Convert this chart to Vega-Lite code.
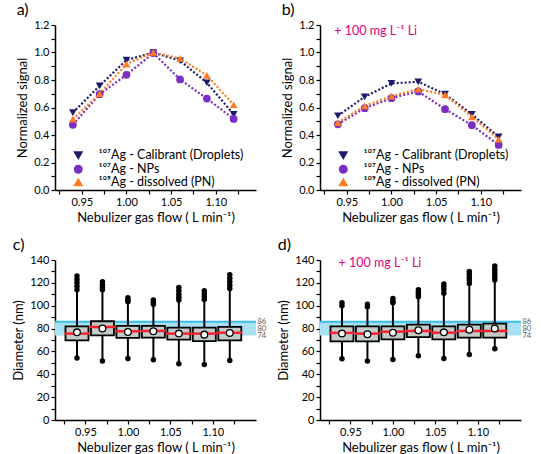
{
  "$schema": "https://vega.github.io/schema/vega-lite/v6.json",
  "padding": {"left": 12, "top": 2, "right": 4, "bottom": 0},
  "config": {
    "font": "Lato",
    "view": {"stroke": null},
    "axis": {"domainColor": "black", "tickColor": "black", "labelColor": "black", "titleColor": "black", "grid": false, "labelFontSize": 11, "titleFontSize": 13, "titleFontWeight": "normal", "domainWidth": 1.5, "tickWidth": 1.2, "tickSize": 4, "labelPadding": 2, "titlePadding": 4, "labelOverlap": false},
    "title": {"fontSize": 16, "fontWeight": "normal", "anchor": "start", "frame": "bounds", "offset": 1, "color": "black"}
  },
  "datasets": {
    "sigA": [
      {"flow": 0.94, "series": "¹⁰⁷Ag - Calibrant (Droplets)", "signal": 0.563},
      {"flow": 0.97, "series": "¹⁰⁷Ag - Calibrant (Droplets)", "signal": 0.758},
      {"flow": 1.00, "series": "¹⁰⁷Ag - Calibrant (Droplets)", "signal": 0.945},
      {"flow": 1.03, "series": "¹⁰⁷Ag - Calibrant (Droplets)", "signal": 1.0},
      {"flow": 1.06, "series": "¹⁰⁷Ag - Calibrant (Droplets)", "signal": 0.94},
      {"flow": 1.09, "series": "¹⁰⁷Ag - Calibrant (Droplets)", "signal": 0.78},
      {"flow": 1.12, "series": "¹⁰⁷Ag - Calibrant (Droplets)", "signal": 0.55},
      {"flow": 0.94, "series": "¹⁰⁷Ag - NPs", "signal": 0.474},
      {"flow": 0.97, "series": "¹⁰⁷Ag - NPs", "signal": 0.697},
      {"flow": 1.00, "series": "¹⁰⁷Ag - NPs", "signal": 0.838},
      {"flow": 1.03, "series": "¹⁰⁷Ag - NPs", "signal": 0.996},
      {"flow": 1.06, "series": "¹⁰⁷Ag - NPs", "signal": 0.804},
      {"flow": 1.09, "series": "¹⁰⁷Ag - NPs", "signal": 0.665},
      {"flow": 1.12, "series": "¹⁰⁷Ag - NPs", "signal": 0.517},
      {"flow": 0.94, "series": "¹⁰⁹Ag - dissolved (PN)", "signal": 0.515},
      {"flow": 0.97, "series": "¹⁰⁹Ag - dissolved (PN)", "signal": 0.70},
      {"flow": 1.00, "series": "¹⁰⁹Ag - dissolved (PN)", "signal": 0.916},
      {"flow": 1.03, "series": "¹⁰⁹Ag - dissolved (PN)", "signal": 1.0},
      {"flow": 1.06, "series": "¹⁰⁹Ag - dissolved (PN)", "signal": 0.957},
      {"flow": 1.09, "series": "¹⁰⁹Ag - dissolved (PN)", "signal": 0.833},
      {"flow": 1.12, "series": "¹⁰⁹Ag - dissolved (PN)", "signal": 0.62}
    ],
    "sigB": [
      {"flow": 0.94, "series": "¹⁰⁷Ag - Calibrant (Droplets)", "signal": 0.54},
      {"flow": 0.97, "series": "¹⁰⁷Ag - Calibrant (Droplets)", "signal": 0.678},
      {"flow": 1.00, "series": "¹⁰⁷Ag - Calibrant (Droplets)", "signal": 0.775},
      {"flow": 1.03, "series": "¹⁰⁷Ag - Calibrant (Droplets)", "signal": 0.787},
      {"flow": 1.06, "series": "¹⁰⁷Ag - Calibrant (Droplets)", "signal": 0.697},
      {"flow": 1.09, "series": "¹⁰⁷Ag - Calibrant (Droplets)", "signal": 0.551},
      {"flow": 1.12, "series": "¹⁰⁷Ag - Calibrant (Droplets)", "signal": 0.386},
      {"flow": 0.94, "series": "¹⁰⁷Ag - NPs", "signal": 0.478},
      {"flow": 0.97, "series": "¹⁰⁷Ag - NPs", "signal": 0.595},
      {"flow": 1.00, "series": "¹⁰⁷Ag - NPs", "signal": 0.668},
      {"flow": 1.03, "series": "¹⁰⁷Ag - NPs", "signal": 0.717},
      {"flow": 1.06, "series": "¹⁰⁷Ag - NPs", "signal": 0.588},
      {"flow": 1.09, "series": "¹⁰⁷Ag - NPs", "signal": 0.471},
      {"flow": 1.12, "series": "¹⁰⁷Ag - NPs", "signal": 0.328},
      {"flow": 0.94, "series": "¹⁰⁹Ag - dissolved (PN)", "signal": 0.49},
      {"flow": 0.97, "series": "¹⁰⁹Ag - dissolved (PN)", "signal": 0.612},
      {"flow": 1.00, "series": "¹⁰⁹Ag - dissolved (PN)", "signal": 0.682},
      {"flow": 1.03, "series": "¹⁰⁹Ag - dissolved (PN)", "signal": 0.734},
      {"flow": 1.06, "series": "¹⁰⁹Ag - dissolved (PN)", "signal": 0.692},
      {"flow": 1.09, "series": "¹⁰⁹Ag - dissolved (PN)", "signal": 0.532},
      {"flow": 1.12, "series": "¹⁰⁹Ag - dissolved (PN)", "signal": 0.369}
    ],
    "boxC": [
      {"flow": 0.94, "lo": 54.2, "q1": 69.7, "med": 75.6, "q3": 82.0, "hi": 126, "mean": 76.7},
      {"flow": 0.97, "lo": 51.6, "q1": 74.1, "med": 81.4, "q3": 86.4, "hi": 121, "mean": 80.0},
      {"flow": 1.00, "lo": 53.9, "q1": 71.8, "med": 77.6, "q3": 82.3, "hi": 107, "mean": 77.0},
      {"flow": 1.03, "lo": 52.7, "q1": 72.0, "med": 77.9, "q3": 82.3, "hi": 105, "mean": 77.6},
      {"flow": 1.06, "lo": 49.2, "q1": 70.3, "med": 75.6, "q3": 80.8, "hi": 116, "mean": 75.6},
      {"flow": 1.09, "lo": 48.6, "q1": 69.1, "med": 75.6, "q3": 80.8, "hi": 113, "mean": 74.7},
      {"flow": 1.12, "lo": 52.1, "q1": 69.7, "med": 76.4, "q3": 81.4, "hi": 127, "mean": 76.2}
    ],
    "outC": [
      {"flow": 0.94, "d": 126}, {"flow": 0.94, "d": 123}, {"flow": 0.94, "d": 120}, {"flow": 0.94, "d": 117}, {"flow": 0.94, "d": 114}, {"flow": 0.94, "d": 54.2},
      {"flow": 0.97, "d": 121}, {"flow": 0.97, "d": 118.5}, {"flow": 0.97, "d": 116}, {"flow": 0.97, "d": 114}, {"flow": 0.97, "d": 51.6},
      {"flow": 1.00, "d": 107}, {"flow": 1.00, "d": 105}, {"flow": 1.00, "d": 103.4}, {"flow": 1.00, "d": 53.9},
      {"flow": 1.03, "d": 105}, {"flow": 1.03, "d": 103}, {"flow": 1.03, "d": 101.3}, {"flow": 1.03, "d": 52.7},
      {"flow": 1.06, "d": 116}, {"flow": 1.06, "d": 113}, {"flow": 1.06, "d": 110}, {"flow": 1.06, "d": 107.5}, {"flow": 1.06, "d": 105}, {"flow": 1.06, "d": 49.2},
      {"flow": 1.09, "d": 113}, {"flow": 1.09, "d": 110.5}, {"flow": 1.09, "d": 108}, {"flow": 1.09, "d": 105.5}, {"flow": 1.09, "d": 48.6},
      {"flow": 1.12, "d": 127}, {"flow": 1.12, "d": 124}, {"flow": 1.12, "d": 121}, {"flow": 1.12, "d": 118}, {"flow": 1.12, "d": 115}, {"flow": 1.12, "d": 52.1}
    ],
    "boxD": [
      {"flow": 0.94, "lo": 53.6, "q1": 68.8, "med": 76.2, "q3": 82.0, "hi": 102.5, "mean": 75.6},
      {"flow": 0.97, "lo": 51.6, "q1": 68.8, "med": 75.6, "q3": 82.0, "hi": 101.3, "mean": 75.0},
      {"flow": 1.00, "lo": 53.0, "q1": 70.6, "med": 77.3, "q3": 82.0, "hi": 106.3, "mean": 76.4},
      {"flow": 1.03, "lo": 56.2, "q1": 72.6, "med": 77.9, "q3": 83.5, "hi": 114, "mean": 78.5},
      {"flow": 1.06, "lo": 53.9, "q1": 70.6, "med": 76.4, "q3": 82.0, "hi": 119, "mean": 76.7},
      {"flow": 1.09, "lo": 57.4, "q1": 72.0, "med": 77.9, "q3": 83.5, "hi": 130, "mean": 79.0},
      {"flow": 1.12, "lo": 62.4, "q1": 72.0, "med": 77.9, "q3": 84.4, "hi": 134.7, "mean": 80.0}
    ],
    "outD": [
      {"flow": 0.94, "d": 102.5}, {"flow": 0.94, "d": 100}, {"flow": 0.94, "d": 53.6},
      {"flow": 0.97, "d": 101.3}, {"flow": 0.97, "d": 99}, {"flow": 0.97, "d": 51.6},
      {"flow": 1.00, "d": 106.3}, {"flow": 1.00, "d": 104}, {"flow": 1.00, "d": 102.5}, {"flow": 1.00, "d": 53.0},
      {"flow": 1.03, "d": 114}, {"flow": 1.03, "d": 112}, {"flow": 1.03, "d": 110}, {"flow": 1.03, "d": 107.8}, {"flow": 1.03, "d": 56.2},
      {"flow": 1.06, "d": 119}, {"flow": 1.06, "d": 116.5}, {"flow": 1.06, "d": 114}, {"flow": 1.06, "d": 111}, {"flow": 1.06, "d": 53.9},
      {"flow": 1.09, "d": 130}, {"flow": 1.09, "d": 127.5}, {"flow": 1.09, "d": 125}, {"flow": 1.09, "d": 122.5}, {"flow": 1.09, "d": 119.5}, {"flow": 1.09, "d": 57.4},
      {"flow": 1.12, "d": 134.7}, {"flow": 1.12, "d": 132}, {"flow": 1.12, "d": 129.5}, {"flow": 1.12, "d": 127}, {"flow": 1.12, "d": 124.5}, {"flow": 1.12, "d": 122.4}, {"flow": 1.12, "d": 62.4}
    ],
    "band": [{"lo": 74, "mid": 80, "hi": 86}],
    "note": [{"text": "+ 100 mg L⁻¹ Li"}]
  },
  "columns": 2,
  "spacing": {"row": 13, "column": 11},
  "resolve": {"scale": {"color": "independent", "shape": "independent"}},
  "concat": [
    {
      "width": 201, "height": 165,
      "title": {"text": "a)"},
      "data": {"name": "sigA"},
      "layer": [
        {"mark": {"type": "line", "strokeDash": [2, 2], "strokeWidth": 2.2},
         "encoding": {
           "x": {"field": "flow", "type": "quantitative", "scale": {"domain": [0.92, 1.145], "nice": false, "zero": false},
                 "axis": {"title": "Nebulizer gas flow ( L min⁻¹)", "values": [0.925, 0.95, 0.975, 1, 1.025, 1.05, 1.075, 1.1, 1.125], "labelExpr": "abs(datum.value*20 - round(datum.value*20)) < 0.001 ? format(datum.value, '.2f') : ''", "labelOverlap": false, "labelFlush": false}},
           "y": {"field": "signal", "type": "quantitative", "scale": {"domain": [0, 1.2], "nice": false},
                 "axis": {"title": "Normalized signal", "values": [0, 0.1, 0.2, 0.3, 0.4, 0.5, 0.6, 0.7, 0.8, 0.9, 1.0, 1.1, 1.2], "labelExpr": "round(datum.value*10) % 2 === 0 ? format(datum.value, '.1f') : ''", "labelOverlap": false}},
           "color": {"field": "series", "type": "nominal", "scale": {"domain": ["¹⁰⁷Ag - Calibrant (Droplets)", "¹⁰⁷Ag - NPs", "¹⁰⁹Ag - dissolved (PN)"], "range": ["#1c1a6b", "#7b2fc0", "#ff7b24"]}}
         }},
        {"mark": {"type": "point", "filled": true, "size": 60, "opacity": 1},
         "encoding": {
           "x": {"field": "flow", "type": "quantitative", "axis": null},
           "y": {"field": "signal", "type": "quantitative", "axis": null},
           "color": {"field": "series", "type": "nominal",
             "legend": {"orient": "none", "legendX": 17, "legendY": 124, "title": null, "labelFontSize": 12.5, "symbolSize": 56, "labelOffset": 14, "rowPadding": 0, "padding": 0,
               "encode": {"symbols": {
                 "shape": {"value": {"expr": "indexof(datum.value, 'Calibrant') >= 0 ? 'M-2.7,0L-1,0M1,0L2.7,0M-1.1,-0.85L1.1,-0.85L0,1.05Z' : (indexof(datum.value, 'NPs') >= 0 ? 'M-2.7,0L-1,0M1,0L2.7,0M-0.95,0A0.95,0.95,0,1,0,0.95,0A0.95,0.95,0,1,0,-0.95,0Z' : 'M-2.7,0L-1,0M1,0L2.7,0M-1.1,0.85L1.1,0.85L0,-1.05Z')"}},
                 "stroke": {"value": {"expr": "indexof(datum.value, 'Calibrant') >= 0 ? '#1c1a6b' : (indexof(datum.value, 'NPs') >= 0 ? '#7b2fc0' : '#ff7b24')"}},
                 "strokeWidth": {"value": 1.8},
                 "strokeDash": {"value": [2, 1.5]}
               }}}},
           "shape": {"field": "series", "type": "nominal", "scale": {"domain": ["¹⁰⁷Ag - Calibrant (Droplets)", "¹⁰⁷Ag - NPs", "¹⁰⁹Ag - dissolved (PN)"], "range": ["triangle-down", "circle", "triangle-up"]}, "legend": null}
         }}
      ],
      "resolve": {"axis": {"x": "independent", "y": "independent"}}
    },
    {
      "width": 201, "height": 165,
      "title": {"text": "b)"},
      "layer": [
        {"data": {"name": "sigB"}, "mark": {"type": "line", "strokeDash": [2, 2], "strokeWidth": 2.2},
         "encoding": {
           "x": {"field": "flow", "type": "quantitative", "scale": {"domain": [0.92, 1.145], "nice": false, "zero": false},
                 "axis": {"title": "Nebulizer gas flow ( L min⁻¹)", "values": [0.925, 0.95, 0.975, 1, 1.025, 1.05, 1.075, 1.1, 1.125], "labelExpr": "abs(datum.value*20 - round(datum.value*20)) < 0.001 ? format(datum.value, '.2f') : ''", "labelOverlap": false, "labelFlush": false}},
           "y": {"field": "signal", "type": "quantitative", "scale": {"domain": [0, 1.2], "nice": false},
                 "axis": {"title": "Normalized signal", "values": [0, 0.1, 0.2, 0.3, 0.4, 0.5, 0.6, 0.7, 0.8, 0.9, 1.0, 1.1, 1.2], "labelExpr": "round(datum.value*10) % 2 === 0 ? format(datum.value, '.1f') : ''", "labelOverlap": false}},
           "color": {"field": "series", "type": "nominal", "scale": {"domain": ["¹⁰⁷Ag - Calibrant (Droplets)", "¹⁰⁷Ag - NPs", "¹⁰⁹Ag - dissolved (PN)"], "range": ["#1c1a6b", "#7b2fc0", "#ff7b24"]}}
         }},
        {"data": {"name": "sigB"}, "mark": {"type": "point", "filled": true, "size": 60, "opacity": 1},
         "encoding": {
           "x": {"field": "flow", "type": "quantitative", "axis": null},
           "y": {"field": "signal", "type": "quantitative", "axis": null},
           "color": {"field": "series", "type": "nominal",
             "legend": {"orient": "none", "legendX": 17, "legendY": 124, "title": null, "labelFontSize": 12.5, "symbolSize": 56, "labelOffset": 14, "rowPadding": 0, "padding": 0,
               "encode": {"symbols": {
                 "shape": {"value": {"expr": "indexof(datum.value, 'Calibrant') >= 0 ? 'M-2.7,0L-1,0M1,0L2.7,0M-1.1,-0.85L1.1,-0.85L0,1.05Z' : (indexof(datum.value, 'NPs') >= 0 ? 'M-2.7,0L-1,0M1,0L2.7,0M-0.95,0A0.95,0.95,0,1,0,0.95,0A0.95,0.95,0,1,0,-0.95,0Z' : 'M-2.7,0L-1,0M1,0L2.7,0M-1.1,0.85L1.1,0.85L0,-1.05Z')"}},
                 "stroke": {"value": {"expr": "indexof(datum.value, 'Calibrant') >= 0 ? '#1c1a6b' : (indexof(datum.value, 'NPs') >= 0 ? '#7b2fc0' : '#ff7b24')"}},
                 "strokeWidth": {"value": 1.8},
                 "strokeDash": {"value": [2, 1.5]}
               }}}},
           "shape": {"field": "series", "type": "nominal", "scale": {"domain": ["¹⁰⁷Ag - Calibrant (Droplets)", "¹⁰⁷Ag - NPs", "¹⁰⁹Ag - dissolved (PN)"], "range": ["triangle-down", "circle", "triangle-up"]}, "legend": null}
         }},
        {"data": {"name": "note"}, "mark": {"type": "text", "align": "left", "baseline": "middle", "color": "#e5007d", "fontSize": 12.5},
         "encoding": {"text": {"field": "text"}, "x": {"datum": 0.936, "axis": null}, "y": {"datum": 1.155, "axis": null}}}
      ],
      "resolve": {"axis": {"x": "independent", "y": "independent"}}
    },
    {
      "width": 201, "height": 160,
      "title": {"text": "c)"},
      "layer": [
        {"data": {"name": "band"}, "mark": {"type": "rect", "color": "#a8e1f4"},
         "encoding": {
           "y": {"field": "lo", "type": "quantitative", "scale": {"domain": [0, 140], "nice": false},
                 "axis": {"orient": "right", "title": null, "values": [74, 80, 86], "domain": false, "ticks": false, "labelPadding": 1, "labelFontSize": 7.5, "labelColor": "#555", "labelFlush": false, "labelOverlap": false}},
           "y2": {"field": "hi"}}},
        {"data": {"name": "band"}, "mark": {"type": "rule", "color": "#3cbdea", "strokeWidth": 2},
         "encoding": {"y": {"field": "hi", "type": "quantitative", "axis": null}}},
        {"data": {"name": "boxC"}, "mark": {"type": "rule", "color": "black", "strokeWidth": 2},
         "encoding": {
           "x": {"field": "flow", "type": "quantitative", "scale": {"domain": [0.92, 1.145], "nice": false, "zero": false},
                 "axis": {"title": "Nebulizer gas flow ( L min⁻¹)", "values": [0.925, 0.95, 0.975, 1, 1.025, 1.05, 1.075, 1.1, 1.125], "labelExpr": "abs(datum.value*20 - round(datum.value*20)) < 0.001 ? format(datum.value, '.2f') : ''", "labelOverlap": false, "labelFlush": false}},
           "y": {"field": "lo", "type": "quantitative", "axis": {"title": "Diameter (nm)", "values": [0, 10, 20, 30, 40, 50, 60, 70, 80, 90, 100, 110, 120, 130, 140], "labelExpr": "datum.value % 20 === 0 ? datum.label : ''", "labelOverlap": false}},
           "y2": {"field": "hi"}}},
        {"data": {"name": "outC"}, "mark": {"type": "circle", "color": "black", "size": 30, "opacity": 1},
         "encoding": {"x": {"field": "flow", "type": "quantitative", "axis": null}, "y": {"field": "d", "type": "quantitative", "axis": null}}},
        {"data": {"name": "boxC"}, "mark": {"type": "bar", "size": 23, "fill": "#c3cbc8", "stroke": "black", "strokeWidth": 1.8},
         "encoding": {"x": {"field": "flow", "type": "quantitative", "axis": null}, "y": {"field": "q1", "type": "quantitative", "axis": null}, "y2": {"field": "q3"}}},
        {"data": {"name": "boxC"}, "mark": {"type": "tick", "orient": "horizontal", "color": "#ff1f2d", "size": 25, "thickness": 2.5, "opacity": 1},
         "encoding": {"x": {"field": "flow", "type": "quantitative", "axis": null}, "y": {"field": "med", "type": "quantitative", "axis": null}}},
        {"data": {"name": "boxC"}, "mark": {"type": "point", "filled": true, "fill": "white", "stroke": "black", "strokeWidth": 1.3, "size": 45, "opacity": 1},
         "encoding": {"x": {"field": "flow", "type": "quantitative", "axis": null}, "y": {"field": "mean", "type": "quantitative", "axis": null}}}
      ],
      "resolve": {"axis": {"x": "independent", "y": "independent"}}
    },
    {
      "width": 201, "height": 160,
      "title": {"text": "d)"},
      "layer": [
        {"data": {"name": "band"}, "mark": {"type": "rect", "color": "#a8e1f4"},
         "encoding": {
           "y": {"field": "lo", "type": "quantitative", "scale": {"domain": [0, 140], "nice": false},
                 "axis": {"orient": "right", "title": null, "values": [74, 80, 86], "domain": false, "ticks": false, "labelPadding": 1, "labelFontSize": 7.5, "labelColor": "#555", "labelFlush": false, "labelOverlap": false}},
           "y2": {"field": "hi"}}},
        {"data": {"name": "band"}, "mark": {"type": "rule", "color": "#3cbdea", "strokeWidth": 2},
         "encoding": {"y": {"field": "hi", "type": "quantitative", "axis": null}}},
        {"data": {"name": "boxD"}, "mark": {"type": "rule", "color": "black", "strokeWidth": 2},
         "encoding": {
           "x": {"field": "flow", "type": "quantitative", "scale": {"domain": [0.92, 1.145], "nice": false, "zero": false},
                 "axis": {"title": "Nebulizer gas flow ( L min⁻¹)", "values": [0.925, 0.95, 0.975, 1, 1.025, 1.05, 1.075, 1.1, 1.125], "labelExpr": "abs(datum.value*20 - round(datum.value*20)) < 0.001 ? format(datum.value, '.2f') : ''", "labelOverlap": false, "labelFlush": false}},
           "y": {"field": "lo", "type": "quantitative", "axis": {"title": "Diameter (nm)", "values": [0, 10, 20, 30, 40, 50, 60, 70, 80, 90, 100, 110, 120, 130, 140], "labelExpr": "datum.value % 20 === 0 ? datum.label : ''", "labelOverlap": false}},
           "y2": {"field": "hi"}}},
        {"data": {"name": "outD"}, "mark": {"type": "circle", "color": "black", "size": 30, "opacity": 1},
         "encoding": {"x": {"field": "flow", "type": "quantitative", "axis": null}, "y": {"field": "d", "type": "quantitative", "axis": null}}},
        {"data": {"name": "boxD"}, "mark": {"type": "bar", "size": 23, "fill": "#c3cbc8", "stroke": "black", "strokeWidth": 1.8},
         "encoding": {"x": {"field": "flow", "type": "quantitative", "axis": null}, "y": {"field": "q1", "type": "quantitative", "axis": null}, "y2": {"field": "q3"}}},
        {"data": {"name": "boxD"}, "mark": {"type": "tick", "orient": "horizontal", "color": "#ff1f2d", "size": 25, "thickness": 2.5, "opacity": 1},
         "encoding": {"x": {"field": "flow", "type": "quantitative", "axis": null}, "y": {"field": "med", "type": "quantitative", "axis": null}}},
        {"data": {"name": "boxD"}, "mark": {"type": "point", "filled": true, "fill": "white", "stroke": "black", "strokeWidth": 1.3, "size": 45, "opacity": 1},
         "encoding": {"x": {"field": "flow", "type": "quantitative", "axis": null}, "y": {"field": "mean", "type": "quantitative", "axis": null}}},
        {"data": {"name": "note"}, "mark": {"type": "text", "align": "left", "baseline": "middle", "color": "#e5007d", "fontSize": 12.5},
         "encoding": {"text": {"field": "text"}, "x": {"datum": 0.936, "axis": null}, "y": {"datum": 137.5, "axis": null}}}
      ],
      "resolve": {"axis": {"x": "independent", "y": "independent"}}
    }
  ]
}
